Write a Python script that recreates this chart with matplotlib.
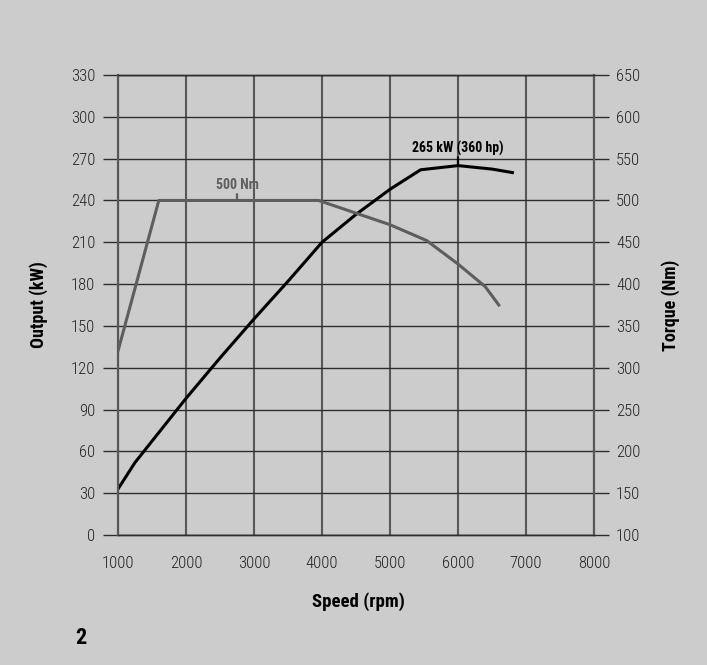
import matplotlib
matplotlib.use("Agg")
import matplotlib.pyplot as plt
import matplotlib.transforms as mtrans
from matplotlib import font_manager as fm

# ---- data ----
power_rpm = [1000, 1250, 2000, 2500, 3000, 3500, 4000, 4500, 5000, 5450, 6000, 6500, 6800]
power_kw = [33, 52, 98, 127, 155, 182, 210, 230, 248, 262, 265, 262.5, 260]
torque_rpm = [1000, 1600, 3950, 5000, 5540, 6000, 6400, 6600]
torque_nm = [320, 500, 500, 471, 452, 424, 397, 375]
x_ticks = [1000, 2000, 3000, 4000, 5000, 6000, 7000, 8000]
kw_ticks = [0, 30, 60, 90, 120, 150, 180, 210, 240, 270, 300, 330]
nm_ticks = [100, 150, 200, 250, 300, 350, 400, 450, 500, 550, 600, 650]

# ---- font choice ----
names = {f.name for f in fm.fontManager.ttflist}
narrow = None
for cand in ["Liberation Sans Narrow", "DejaVu Sans Condensed", "Roboto Condensed", "Open Sans Condensed"]:
    if cand in names:
        narrow = cand
        break
if narrow is None:
    narrow = "DejaVu Sans"
stretch = "condensed"
plt.rcParams["font.family"] = [narrow, "DejaVu Sans"]

BG = "#cccccc"
HGRID = "#2e2e2e"
VGRID = "#585858"
TQ = "#5e5e5e"

fig = plt.figure(figsize=(7.07, 6.65), dpi=100, facecolor=BG)
ax1 = fig.add_axes([118 / 707, 1 - 535 / 665, (594 - 118) / 707, (535 - 75) / 665])
ax1.set_facecolor(BG)
ax2 = ax1.twinx()

ax1.set_xlim(1000, 8000)
ax1.set_ylim(0, 330)
ax2.set_ylim(100, 650)
ax1.set_xticks(x_ticks)
ax1.set_yticks(kw_ticks)
ax2.set_yticks(nm_ticks)

for ax in (ax1, ax2):
    for side, s in ax.spines.items():
        if side in ("left", "right"):
            s.set_color(VGRID)
            s.set_linewidth(1.5)
        else:
            s.set_color(HGRID)
            s.set_linewidth(1.0)

ax1.grid(True, axis="x", color=VGRID, linewidth=1.5)
ax1.grid(True, axis="y", color=HGRID, linewidth=1.0)
ax1.set_axisbelow(True)

tick_len = 15 * 72 / 100
ax1.tick_params(axis="y", length=tick_len, width=1.0, color=HGRID, pad=5.5,
                labelsize=12, labelcolor="#222222")
ax2.tick_params(axis="y", length=tick_len, width=1.0, color=HGRID, pad=5,
                labelsize=12, labelcolor="#222222")
ax1.tick_params(axis="x", length=0, pad=15, labelsize=12, labelcolor="#222222")
for lab in ax1.get_xticklabels() + ax1.get_yticklabels() + ax2.get_yticklabels():
    lab.set_fontstretch(stretch)
    lab.set_fontweight("light")

ax1.plot(power_rpm, power_kw, color="black", lw=2.2, solid_joinstyle="round", zorder=5)
ax2.plot(torque_rpm, torque_nm, color=TQ, lw=2.2, solid_joinstyle="round", zorder=4)

# annotations
ax2.annotate("", xy=(2750, 500), xytext=(0, 4.5), textcoords="offset points",
             arrowprops=dict(arrowstyle="-", color=TQ, lw=1.6, shrinkA=0, shrinkB=0))
ax2.text(2750, 500, "500 Nm", ha="center", va="bottom",
         fontsize=10, fontweight="bold", color=TQ, fontstretch=stretch,
         transform=ax2.transData + mtrans.ScaledTranslation(0, 6 / 72, fig.dpi_scale_trans))

ax1.annotate("", xy=(6000, 265), xytext=(0, 6), textcoords="offset points",
             arrowprops=dict(arrowstyle="-", color="black", lw=1.6, shrinkA=0, shrinkB=0))
ax1.text(6000, 265, "265 kW (360 hp)", ha="center", va="bottom", fontsize=10,
         fontweight="bold", color="black", fontstretch=stretch,
         transform=ax1.transData + mtrans.ScaledTranslation(0, 7 / 72, fig.dpi_scale_trans))

fig.text(39 / 707, 1 - 305 / 665, "Output (kW)", rotation=90, ha="center", va="center",
         fontsize=13, fontweight="bold", fontstretch=stretch)
fig.text(671 / 707, 1 - 305 / 665, "Torque (Nm)", rotation=90, ha="center", va="center",
         fontsize=13, fontweight="bold", fontstretch=stretch)
fig.text(358 / 707, 1 - 602 / 665, "Speed (rpm)", ha="center", va="center",
         fontsize=13.5, fontweight="bold", fontstretch=stretch)
fig.text(81 / 707, 1 - 638 / 665, "2", ha="center", va="center",
         fontsize=16, fontweight="bold", fontstretch=stretch)

fig.savefig("out.png", dpi=100, facecolor=BG)
